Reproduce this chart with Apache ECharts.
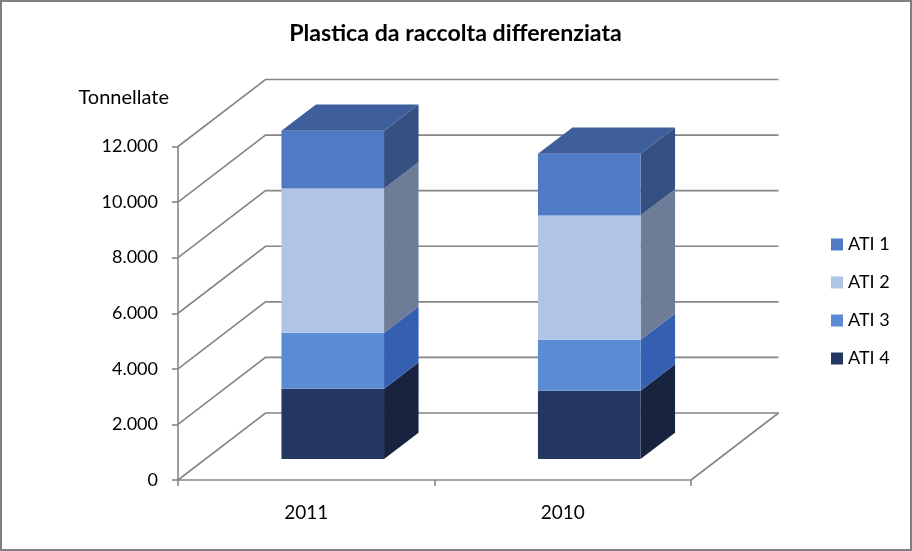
<!DOCTYPE html>
<html>
<head>
<meta charset="utf-8">
<style>html,body{margin:0;padding:0;background:#fff}#c{width:912px;height:551px}</style>
<script src="https://cdn.jsdelivr.net/npm/echarts@6/dist/echarts.min.js"></script>
</head>
<body>
<div id="c"></div>
<script>
const categories = ['2011', '2010'];
const yTicks = [0, 2000, 4000, 6000, 8000, 10000, 12000];
const seriesNames = ['ATI 1', 'ATI 2', 'ATI 3', 'ATI 4'];
const ati1 = [2080, 2220];
const ati2 = [5190, 4470];
const ati3 = [2010, 1830];
const ati4 = [2530, 2460];

const seriesValues = [ati1, ati2, ati3, ati4];
const frontColors = ['#4f7bc4', '#b0c5e6', '#5a8bd3', '#243760'];
const sideColors = ['#365081', '#6e7c98', '#355fb0', '#18233f'];
const topColor = '#3f5f9c';
const lineColor = '#868686';
const font = 'Lato';

// 3D projection (pixels)
const wall = [87.5, -67];
const barShift = [26.5, -21];
const barDepth = [34.5, -26.3];
const barRatio = 0.4;

function wallItem(params, api) {
  const p = api.coord([0, api.value(0)]);
  const rightEnd = api.coord([categories.length - 1, api.value(0)])[0] + api.size([1, 0])[0] / 2;
  const children = [{
    type: 'polyline',
    shape: { points: [[p[0] - api.size([1, 0])[0] / 2, p[1]],
                      [p[0] - api.size([1, 0])[0] / 2 + wall[0], p[1] + wall[1]],
                      [rightEnd + wall[0], p[1] + wall[1]]] },
    style: { stroke: lineColor, lineWidth: 1.6, fill: null }
  }];
  if (api.value(0) === 0) {
    children.push({
      type: 'line',
      shape: { x1: rightEnd + wall[0], y1: p[1] + wall[1], x2: rightEnd, y2: p[1] },
      style: { stroke: lineColor, lineWidth: 1.6 }
    });
  }
  return { type: 'group', children };
}

function barItem(k) {
  return function (params, api) {
    const i = api.value(0);
    const lo = api.coord([i, api.value(1)]);
    const hi = api.coord([i, api.value(2)]);
    const w = api.size([1, 0])[0] * barRatio;
    const x0 = lo[0] - w / 2 + barShift[0];
    const x1 = x0 + w;
    const yb = lo[1] + barShift[1];
    const yt = hi[1] + barShift[1];
    const children = [
      { type: 'polygon',
        shape: { points: [[x1, yb], [x1 + barDepth[0], yb + barDepth[1]], [x1 + barDepth[0], yt + barDepth[1]], [x1, yt]] },
        style: { fill: sideColors[k] } },
      { type: 'rect', shape: { x: x0, y: yt, width: w, height: yb - yt },
        style: { fill: frontColors[k] } }
    ];
    if (k === 0) {
      children.push({ type: 'polygon',
        shape: { points: [[x0, yt], [x0 + barDepth[0], yt + barDepth[1]], [x1 + barDepth[0], yt + barDepth[1]], [x1, yt]] },
        style: { fill: topColor } });
    }
    return { type: 'group', children };
  };
}

const barSeries = [];
const base = categories.map(() => 0);
for (let k = seriesNames.length - 1; k >= 0; k--) {
  const rows = categories.map((c, i) => {
    const row = [i, base[i], base[i] + seriesValues[k][i]];
    base[i] += seriesValues[k][i];
    return row;
  });
  barSeries.push({
    type: 'custom', name: seriesNames[k], data: rows, z: 3,
    encode: { x: 0, y: [1, 2] },
    itemStyle: { color: frontColors[k] },
    renderItem: barItem(k), silent: true
  });
}

const chart = echarts.init(document.getElementById('c'));
chart.setOption({
  animation: false,
  backgroundColor: '#fff',
  graphic: [{ type: 'rect', silent: true, z: -1,
    shape: { x: 1, y: 1, width: 910, height: 549 },
    style: { fill: 'transparent', stroke: '#7f7f85', lineWidth: 2 } }],
  title: {
    text: 'Plastica da raccolta differenziata',
    left: 450.5, top: 17, textAlign: 'center',
    textStyle: { fontFamily: font, fontSize: 23.2, fontWeight: 'bold', color: '#000' }
  },
  legend: {
    orient: 'vertical', left: 826, top: 230.5, itemWidth: 12, itemHeight: 12, itemGap: 20,
    data: seriesNames, icon: 'rect', selectedMode: false,
    textStyle: { fontFamily: font, fontSize: 18, color: '#000', padding: [0, 0, 0, 0] }
  },
  grid: { left: 178, right: 221, top: 146.5, bottom: 71 },
  xAxis: {
    type: 'category', data: categories,
    axisLine: { lineStyle: { color: lineColor, width: 1.6 } },
    axisTick: { show: true, length: 6, alignWithLabel: false, lineStyle: { color: lineColor, width: 1.6 } },
    axisLabel: { fontFamily: font, fontSize: 19, color: '#000', margin: 23 }
  },
  yAxis: {
    type: 'value', min: 0, max: 12000, interval: 2000,
    name: 'Tonnellate', nameLocation: 'end', nameGap: 39,
    nameTextStyle: { fontFamily: font, fontSize: 20, color: '#000', align: 'right', padding: [0, 9, 0, 0] },
    axisLine: { show: true, lineStyle: { color: lineColor, width: 1.6 } },
    axisTick: { show: true, length: 6, lineStyle: { color: lineColor, width: 1.6 } },
    splitLine: { show: false },
    axisLabel: {
      fontFamily: font, fontSize: 18, color: '#000', margin: 20,
      formatter: v => v === 0 ? '0' : String(v).replace(/(\d)(\d{3})$/, '$1.$2')
    }
  },
  series: [{
    type: 'custom', name: 'walls', data: yTicks.map(v => [v]), z: 1, silent: true,
    encode: { y: 0 }, renderItem: wallItem
  }].concat(barSeries)
});
</script>
</body>
</html>
